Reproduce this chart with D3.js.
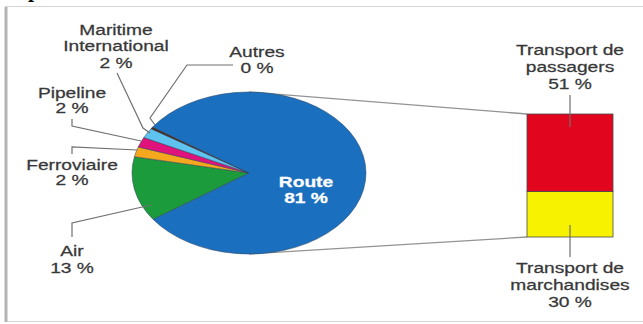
<!DOCTYPE html>
<html>
<head>
<meta charset="utf-8">
<script src="https://cdn.jsdelivr.net/npm/d3@7"></script>
<style>
  html, body { margin: 0; padding: 0; background: #fff; }
  svg { display: block; }
  text { font-family: "Liberation Sans", Arial, sans-serif; }
</style>
</head>
<body>
<div id="chart"></div>
<script>
// pie slices, clockwise from the Air slice
const sectors = ["Air", "Ferroviaire", "Pipeline", "Maritime International", "Autres", "Route"];
const shares = [13, 2, 2, 2, 0.4, 81];
const sectorColors = ["#1c9b3c", "#f5a71d", "#e0137c", "#5ec3ef", "#4b2a1e", "#1b6fbf"];

// breakdown of the Route slice
const routeParts = ["Transport de marchandises", "Transport de passagers"];
const routeShares = [30, 51];
const routeColors = ["#f7f200", "#e1061e"];

const W = 643, H = 324;
const svg = d3.select("#chart").append("svg").attr("width", W).attr("height", H);

// frame of the picture (the tail of a "p" from the text above shows at the top)
svg.append("text").attr("x", 28).attr("y", -3)
  .style("font-family", "Liberation Serif").style("font-weight", "bold")
  .style("font-size", "22px").attr("fill", "#000").text("p");
svg.append("rect").attr("x", 5.5).attr("y", 6.5).attr("width", 700).attr("height", 315)
  .attr("fill", "none").attr("stroke", "#d4d4d4");
svg.append("line").attr("x1", 6).attr("x2", 6).attr("y1", 7).attr("y2", 322)
  .attr("stroke", "#b4b4b4").attr("stroke-width", 3);

// ellipse (tilted pie)
const cx = 249, cy = 173, rx = 117, ry = 81;

// stacked bar scale
const barX = 527, barW = 86;
const yBar = d3.scaleLinear().domain([0, d3.sum(routeShares)]).range([237, 114]);

// connector lines pie -> bar
svg.append("line").attr("x1", cx).attr("y1", cy - ry).attr("x2", barX).attr("y2", yBar(d3.sum(routeShares)))
  .attr("stroke", "#939393").attr("stroke-width", 1.3);
svg.append("line").attr("x1", cx).attr("y1", cy + ry).attr("x2", barX).attr("y2", yBar(0))
  .attr("stroke", "#939393").attr("stroke-width", 1.3);

const pie = d3.pie().sort(null)
  .startAngle((145 + 90) * Math.PI / 180)
  .endAngle((145 + 90 + 360) * Math.PI / 180);
const arcs = pie(shares);
const arc = d3.arc().innerRadius(0).outerRadius(rx);

const gPie = svg.append("g")
  .attr("transform", "translate(" + cx + "," + cy + ") scale(1," + ry / rx + ")");
gPie.selectAll("path").data(arcs).enter().append("path")
  .attr("d", arc)
  .attr("fill", (d, i) => sectorColors[i])
  .attr("stroke", "#2a4058")
  .attr("stroke-width", 0.5)
  .attr("vector-effect", "non-scaling-stroke");

// stacked bar
const stacked = [];
let acc = 0;
routeShares.forEach((v, i) => { stacked.push({ i: i, y0: acc, y1: acc + v }); acc += v; });
svg.selectAll(".seg").data(stacked).enter().append("rect")
  .attr("class", "seg")
  .attr("x", barX).attr("width", barW)
  .attr("y", d => yBar(d.y1))
  .attr("height", d => yBar(d.y0) - yBar(d.y1))
  .attr("fill", d => routeColors[d.i])
  .attr("stroke", "#4a4a4a").attr("stroke-width", 0.8);

// text helper: the source type is stretched horizontally
function label(lines, x, y, opts) {
  opts = opts || {};
  const col = opts.fill || "#383838";
  const t = svg.append("text")
    .attr("transform", "translate(" + x + "," + y + ") scale(1.37,1)")
    .attr("text-anchor", "middle")
    .style("font-size", "14px")
    .style("font-weight", opts.bold ? "bold" : "normal")
    .attr("fill", col)
    .attr("stroke", col).attr("stroke-width", 0.25);
  lines.forEach((s, k) => {
    t.append("tspan").attr("x", 0).attr("y", k * (opts.lh || 16.5)).text(s);
  });
}
function leader(pts) {
  svg.append("path").attr("d", d3.line()(pts))
    .attr("fill", "none").attr("stroke", "#707070").attr("stroke-width", 1.2);
}
const pct = v => Math.round(v) + " %";

// label layout for the small slices
const labelPos = {
  "Maritime International": { x: 116, y: 35, lead: [[117, 73], [143, 128], [150, 133]] },
  "Autres": { x: 257, y: 57, lh: 16, lead: [[233, 65], [187, 65], [150, 118], [155, 125]] },
  "Pipeline": { x: 72, y: 98, lh: 15.5, lead: [[72, 119], [72, 126], [141, 141]] },
  "Ferroviaire": { x: 72, y: 170, lh: 15.5, lead: [[72, 154], [72, 147], [137, 150]] },
  "Air": { x: 72, y: 256, lh: 17, lead: [[72, 237], [72, 223], [151, 205]] }
};
sectors.forEach((name, i) => {
  const p = labelPos[name];
  if (!p) return;
  leader(p.lead);
  label(name.split(" ").concat([pct(shares[i])]), p.x, p.y, { lh: p.lh });
});

// Route label inside the pie
label(["Route", pct(shares[5])], 306, 187, { bold: true, fill: "#fff", lh: 16.5 });

// bar labels
const bx = barX + barW / 2;
leader([[bx, 95], [bx, 127]]);
leader([[bx, 225], [bx, 257]]);
label(["Transport de", "passagers", pct(routeShares[1])], bx, 55, { lh: 17 });
label(["Transport de", "marchandises", pct(routeShares[0])], bx, 273, { lh: 17 });
</script>
</body>
</html>
